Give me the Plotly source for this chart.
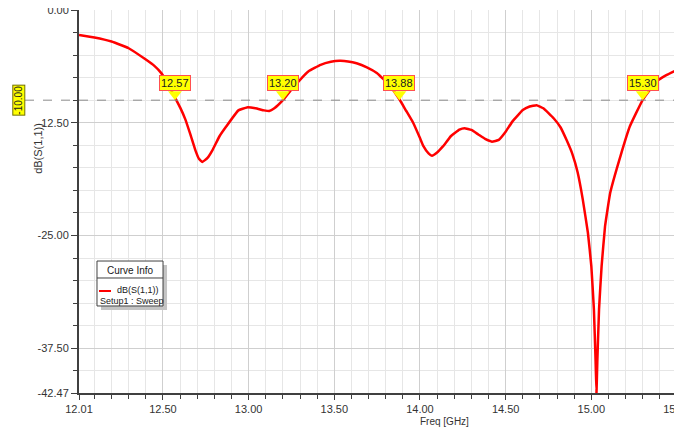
import plotly.graph_objects as go

# ---- data ----
freq_ghz = [12.01, 12.10, 12.20, 12.30, 12.40, 12.45, 12.49, 12.53, 12.57, 12.60, 12.63, 12.66,
            12.69, 12.71, 12.73, 12.76, 12.79, 12.83, 12.87, 12.94, 12.99, 13.04, 13.09, 13.12,
            13.15, 13.20, 13.25, 13.30, 13.35, 13.42, 13.48, 13.53, 13.58, 13.63, 13.69, 13.75,
            13.82, 13.88, 13.92, 13.96, 14.00, 14.02, 14.05, 14.07, 14.10, 14.135, 14.18, 14.23,
            14.26, 14.30, 14.34, 14.38, 14.42, 14.46, 14.50, 14.54, 14.60, 14.64, 14.68, 14.72,
            14.78, 14.82, 14.855, 14.89, 14.92, 14.95, 14.98, 15.00, 15.015, 15.025, 15.03,
            15.035, 15.045, 15.06, 15.08, 15.11, 15.17, 15.225, 15.30, 15.38, 15.44, 15.50]
s11_db = [-2.77, -3.05, -3.5, -4.24, -5.5, -6.2, -7.0, -8.25, -9.7, -10.8, -12.1, -13.8,
          -15.6, -16.5, -16.85, -16.4, -15.5, -14.0, -12.9, -11.13, -10.8, -10.9, -11.13, -11.2,
          -10.9, -10.0, -8.8, -7.74, -6.8, -6.08, -5.75, -5.64, -5.7, -5.9, -6.35, -7.0,
          -8.3, -9.9, -11.2, -12.5, -14.2, -15.1, -15.9, -16.15, -15.8, -15.1, -14.0, -13.27,
          -13.1, -13.3, -13.8, -14.3, -14.6, -14.4, -13.5, -12.35, -11.1, -10.7, -10.55, -10.9,
          -12.0, -13.0, -14.4, -16.0, -18.0, -21.0, -24.7, -28.4, -33.2, -39.0, -42.47,
          -39.0, -33.2, -28.4, -24.0, -20.3, -16.2, -12.9, -9.96, -7.93, -7.2, -6.64]

marker_freqs = [12.57, 13.20, 13.88, 15.30]
marker_level = -10.0

x_tickvals = [12.01, 12.5, 13.0, 13.5, 14.0, 14.5, 15.0, 15.5]
x_ticktext = ["12.01", "12.50", "13.00", "13.50", "14.00", "14.50", "15.00", "15.50"]
x_minor = [round(12.1 + 0.1 * i, 2) for i in range(34)]
y_tickvals = [0.0, -12.5, -25.0, -37.5, -42.47]
y_ticktext = ["0.00", "-12.50", "-25.00", "-37.50", "-42.47"]
y_minor = [-2.5 * i for i in range(17)]

FONT = "Liberation Sans Narrow, Arial Narrow, Liberation Sans, Arial"

fig = go.Figure()
fig.add_trace(go.Scatter(x=freq_ghz, y=s11_db, mode="lines",
                         line=dict(color="#ff0000", width=2.5, shape="spline", smoothing=0.3),
                         hoverinfo="x+y", showlegend=False))

# marker pointers (triangles)
fig.add_trace(go.Scatter(x=marker_freqs, y=[marker_level + 0.66] * len(marker_freqs), mode="markers",
                         marker=dict(symbol="triangle-down", size=12, color="#ffff00",
                                     line=dict(color="#ffff00", width=0)),
                         showlegend=False, hoverinfo="skip"))

for f in marker_freqs:
    fig.add_annotation(x=f, y=marker_level, xref="x", yref="y", text=f"{f:.2f}",
                       showarrow=False, xanchor="center", yanchor="bottom", yshift=9,
                       bgcolor="#ffff00", bordercolor="#ff5050", borderwidth=1, borderpad=1,
                       font=dict(family=FONT, size=11, color="#202020"))

# -10 dB reference line and label
fig.add_shape(type="line", xref="paper", yref="y", x0=-0.0903, x1=1, y0=marker_level, y1=marker_level,
              line=dict(color="#8a8a8a", width=1, dash="dash"), layer="above")
fig.add_annotation(xref="paper", yref="y", x=-0.1012, y=marker_level, text="-10.00", textangle=-90,
                   showarrow=False, xanchor="center", yanchor="middle",
                   bgcolor="#ffff00", bordercolor="#707000", borderwidth=1, borderpad=0,
                   font=dict(family=FONT, size=10, color="#202020"))

# axis titles
fig.add_annotation(xref="paper", yref="paper", x=-0.0686, y=0.64, text="dB(S(1,1))", textangle=-90,
                   showarrow=False, xanchor="center", yanchor="middle",
                   font=dict(family=FONT, size=11, color="#333333"))
fig.add_annotation(xref="paper", yref="paper", x=0.6104, y=-0.0757, text="Freq [GHz]",
                   showarrow=False, xanchor="center", yanchor="middle",
                   font=dict(family=FONT, size=10, color="#333333"))

# curve info box
fig.add_shape(type="rect", xref="paper", yref="paper", x0=0.0368, x1=0.1472, y0=0.2167, y1=0.3342,
              fillcolor="#c4c4c4", line=dict(width=0), layer="above")
fig.add_shape(type="rect", xref="paper", yref="paper", x0=0.0301, x1=0.1405, y0=0.2272, y1=0.3446,
              fillcolor="#ffffff", line=dict(color="#404040", width=1), layer="above")
fig.add_shape(type="line", xref="paper", yref="paper", x0=0.0301, x1=0.1405, y0=0.3003, y1=0.3003,
              line=dict(color="#404040", width=1), layer="above")
fig.add_shape(type="line", xref="paper", yref="paper", x0=0.0334, x1=0.0535, y0=0.2663, y1=0.2663,
              line=dict(color="#ff0000", width=2), layer="above")
fig.add_annotation(xref="paper", yref="paper", x=0.0853, y=0.3211, text="Curve Info", showarrow=False,
                   xanchor="center", yanchor="middle", font=dict(family=FONT, size=10, color="#202020"))
fig.add_annotation(xref="paper", yref="paper", x=0.1371, y=0.2683, text="dB(S(1,1))", showarrow=False,
                   xanchor="right", yanchor="middle", font=dict(family=FONT, size=9, color="#202020"))
fig.add_annotation(xref="paper", yref="paper", x=0.0318, y=0.2405, text="Setup1 : Sweep", showarrow=False,
                   xanchor="left", yanchor="middle", font=dict(family=FONT, size=9, color="#202020"))

fig.update_xaxes(range=[12.01, 15.5], tickmode="array", tickvals=x_tickvals, ticktext=x_ticktext,
                 ticks="outside", ticklen=5, tickcolor="#404040", showline=True, linecolor="#404040",
                 linewidth=2, showgrid=True, gridcolor="#cfcfcf", gridwidth=1, zeroline=False,
                 ticklabeloverflow="allow", automargin=False,
                 tickfont=dict(family=FONT, size=11, color="#333333"),
                 minor=dict(tickmode="array", tickvals=x_minor, ticks="outside", ticklen=4,
                            tickcolor="#404040", showgrid=True, gridcolor="#e6e6e6"))
fig.update_yaxes(range=[-42.47, 0], tickmode="array", tickvals=y_tickvals, ticktext=y_ticktext,
                 ticks="outside", ticklen=6, tickcolor="#404040", showline=True, linecolor="#404040",
                 linewidth=2, showgrid=True, gridcolor="#cfcfcf", gridwidth=1, zeroline=False,
                 ticklabeloverflow="allow", automargin=False,
                 tickfont=dict(family=FONT, size=11, color="#333333"),
                 minor=dict(tickmode="array", tickvals=y_minor, ticks="outside", ticklen=4,
                            tickcolor="#404040", showgrid=True, gridcolor="#e6e6e6"))

# page body has an 8px default margin: size the figure so the plot area lands where the reference has it
fig.update_layout(width=674, height=422, margin=dict(l=71, r=5, t=2, b=37, autoexpand=False),
                  paper_bgcolor="#ffffff", plot_bgcolor="#ffffff", showlegend=False)

fig.write_html("out.html")
